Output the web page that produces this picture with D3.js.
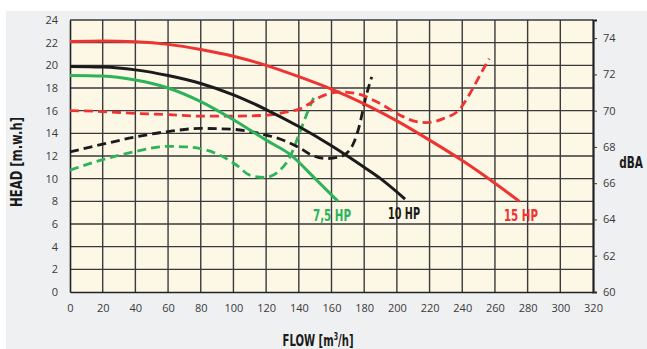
<!DOCTYPE html>
<html><head><meta charset="utf-8">
<script src="https://cdn.jsdelivr.net/npm/d3@7"></script>
<style>
html,body{margin:0;padding:0;background:#fff;}
svg{display:block;}
.tick text{font-family:"Open Sans","Noto Sans",sans-serif;font-size:11px;fill:#3a3a3a;}
.lbl{font-family:"Liberation Sans Narrow","DejaVu Sans Condensed",sans-serif;font-weight:bold;}
</style></head>
<body>
<script>
// ---- data ----
const flowTicks = [0,20,40,60,80,100,120,140,160,180,200,220,240,260,280,300,320];
const headTicks = [0,2,4,6,8,10,12,14,16,18,20,22,24];
const dbaTicks = [60,62,64,66,68,70,72,74];
const names = ["7,5 HP","10 HP","15 HP"];

// head curves [flow, head]
const head15 = [[0,22.1],[20,22.15],[40,22.08],[60,21.85],[80,21.4],[100,20.8],[120,20.0],[140,19.0],[160,17.9],[180,16.6],[200,15.1],[220,13.4],[240,11.6],[260,9.6],[275,8.0]];
const head10 = [[0,19.9],[20,19.85],[40,19.6],[60,19.1],[80,18.4],[100,17.4],[120,16.1],[140,14.6],[160,12.9],[180,11.0],[190,10.0],[205,8.2]];
const head75 = [[0,19.1],[20,19.05],[40,18.7],[60,18.0],[80,16.8],[100,15.2],[120,13.4],[135,12.1],[150,10.0],[164,8.0]];

// noise curves [flow, dBA]
const dba15 = [[0,70.0],[20,69.95],[40,69.85],[61,69.78],[79.5,69.7],[100,69.7],[120.3,69.75],[132.6,69.93],[140.7,70.1],[146.8,70.4],[153,70.75],[165.2,71.03],[175.4,70.94],[189.7,70.39],[201.9,69.75],[210,69.44],[218.2,69.34],[228.4,69.56],[238.6,70.1],[245.8,71.12],[251.9,72.13],[256.5,72.87]];
const dba10 = [[0,67.73],[20,68.15],[40,68.55],[60,68.85],[80,69.02],[100,68.97],[116.2,68.74],[130.5,68.37],[141.4,67.9],[146.8,67.6],[157,67.36],[166.2,67.49],[173.4,68.19],[177.4,69.29],[180.5,70.57],[184.6,71.86]];
const dba75 = [[0,66.72],[20,67.3],[40,67.75],[60,68.03],[72,68.0],[80,67.9],[91.8,67.54],[102,66.99],[110.1,66.44],[119.3,66.32],[128.5,66.72],[134.6,67.45],[140.7,68.83],[145.8,70.02],[149.8,70.85]];

const colors = ["#2db45a","#1b1b1b","#ee3333"];
const heads = [head75, head10, head15];
const dbas = [dba75, dba10, dba15];

// ---- layout ----
const W=647,H=349;
const L=70,R=593,T=20,B=292;
const svg=d3.select("body").append("svg").attr("width",W).attr("height",H);
svg.append("rect").attr("x",6).attr("y",11).attr("width",W-6).attr("height",H-11).attr("fill","#eff0f2");

const x=d3.scaleLinear().domain([0,320]).range([L,R]);
const y=d3.scaleLinear().domain([0,24]).range([B,T]);
const y2=d3.scaleLinear().domain([60,75]).range([B,T]);

svg.append("rect").attr("x",L).attr("y",T).attr("width",R-L).attr("height",B-T).attr("fill","#fcf8e5");

// grid
const g=svg.append("g");
g.selectAll(".vg").data(flowTicks.slice(1,-1)).join("line")
  .attr("x1",d=>x(d)).attr("x2",d=>x(d)).attr("y1",T).attr("y2",B)
  .attr("stroke","#3a3a3a").attr("stroke-width",1.4);
g.selectAll(".hg").data(headTicks.slice(1)).join("line")
  .attr("x1",L).attr("x2",R).attr("y1",d=>y(d)).attr("y2",d=>y(d))
  .attr("stroke","#3a3a3a").attr("stroke-width",1.4);

// axes
const xa=svg.append("g").attr("transform",`translate(0,${B})`)
  .call(d3.axisBottom(x).tickValues(flowTicks).tickSize(0).tickPadding(12));
xa.select(".domain").attr("stroke","#222").attr("stroke-width",1.6);
const ya=svg.append("g").attr("transform",`translate(${L},0)`)
  .call(d3.axisLeft(y).tickValues(headTicks).tickSize(0).tickPadding(12));
ya.select(".domain").attr("stroke","#222").attr("stroke-width",1.6);
const y2a=svg.append("g").attr("transform",`translate(${R},0)`)
  .call(d3.axisRight(y2).tickValues(dbaTicks).tickSize(4).tickPadding(6));
y2a.select(".domain").attr("stroke","#222").attr("stroke-width",2.2);
y2a.selectAll(".tick line").attr("stroke","#333");

// curves
const lineH=d3.line().x(d=>x(d[0])).y(d=>y(d[1])).curve(d3.curveMonotoneX);
const lineD=d3.line().x(d=>x(d[0])).y(d=>y2(d[1])).curve(d3.curveMonotoneX);
dbas.forEach((s,i)=>{
  svg.append("path").attr("d",lineD(s)).attr("fill","none")
    .attr("stroke",colors[i]).attr("stroke-width",2.8).attr("stroke-dasharray","9,5");
});
const lblOff=[-6,-1,1.5], lblLen=[38,32,34];
heads.forEach((s,i)=>{
  svg.append("path").attr("d",lineH(s)).attr("fill","none")
    .attr("stroke",colors[i]).attr("stroke-width",3);
  const last=s[s.length-1];
  svg.append("text").attr("class","lbl").attr("x",x(last[0])+lblOff[i]).attr("y",y(last[1])+20)
    .attr("text-anchor","middle").attr("font-size",16.5).attr("fill",colors[i])
    .attr("textLength",lblLen[i]).attr("lengthAdjust","spacingAndGlyphs").text(names[i]);
});

// titles
svg.append("text").attr("class","lbl").attr("transform","translate(22,162) rotate(-90)")
  .attr("text-anchor","middle").attr("font-size",16).attr("fill","#1b1b1b")
  .attr("textLength",90).attr("lengthAdjust","spacingAndGlyphs").text("HEAD [m.w.h]");
const ft=svg.append("text").attr("class","lbl").attr("x",318).attr("y",346)
  .attr("text-anchor","middle").attr("font-size",16).attr("fill","#1b1b1b")
  .attr("transform","translate(318,0) scale(0.7,1) translate(-318,0)");
ft.append("tspan").text("FLOW [m");
ft.append("tspan").attr("dy",-6).attr("font-size",10).text("3");
ft.append("tspan").attr("dy",6).text("/h]");
svg.append("text").attr("class","lbl").attr("x",631).attr("y",168)
  .attr("text-anchor","middle").attr("font-size",15).attr("fill","#1b1b1b")
  .attr("transform","translate(631,0) scale(0.78,1) translate(-631,0)").text("dBA");
</script>
</body></html>
